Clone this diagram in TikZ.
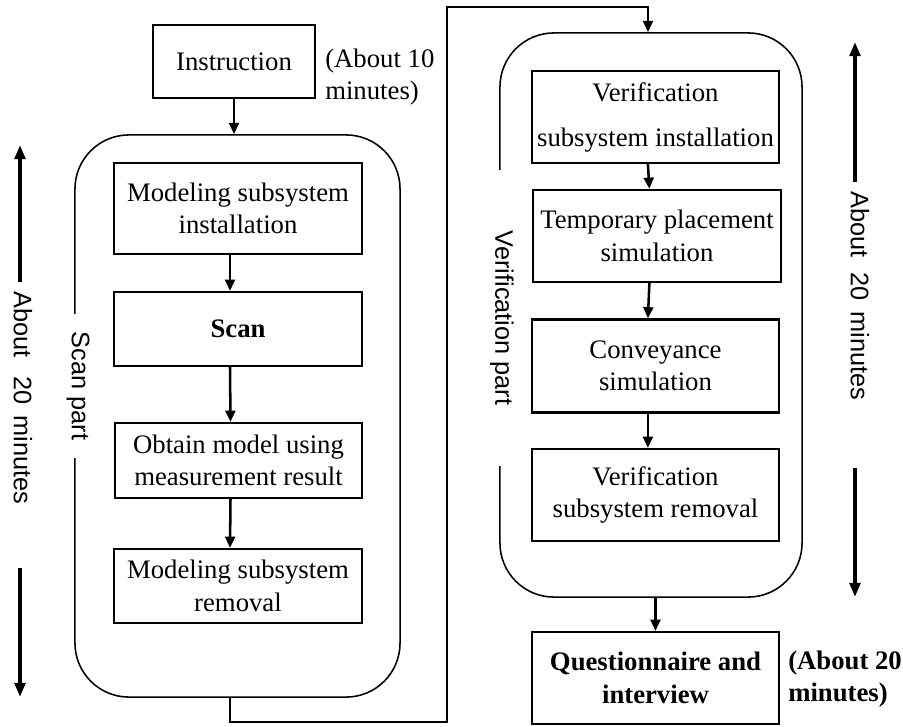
\documentclass[tikz,border=0pt]{standalone}
\usepackage{fontspec}
\setmainfont{Liberation Serif}
\setsansfont{Liberation Sans}
\usetikzlibrary{positioning, arrows.meta}

\begin{document}
\begin{tikzpicture}[
  x=0.025cm, y=-0.025cm,
  font=\fontsize{19}{23}\selectfont,
  boite/.style={draw, line width=1.6pt, align=center, inner sep=2pt},
  gras/.style={font=\fontsize{19}{23}\selectfont\bfseries},
  groupe/.style={draw, line width=1.1pt, rounded corners=1.35cm},
  partie/.style={font=\fontsize{18}{22}\selectfont\sffamily, rotate=-90,
                 fill=white, inner sep=0pt},
  duree/.style={font=\fontsize{18}{22}\selectfont\sffamily, rotate=-90, inner sep=0pt},
  fl/.style={-{Triangle[length=8pt, width=7pt]}, line width=1.8pt},
  grandfl/.style={-{Triangle[length=10pt, width=7.5pt]}, line width=2.8pt},
]
\useasboundingbox (0,0) rectangle (903,726);
% les deux parties
\node[groupe, minimum width=8.125cm, minimum height=14.05cm] (scangrp) at (237.5,416) {};
\node[groupe, minimum width=7.55cm, minimum height=14.1cm] (vergrp) at (651,315) {};
\node[partie, minimum width=3.575cm] (scanlbl) at (78,386) {Scan part};
\node[partie, minimum width=7.375cm] (verlbl) at (502,318) {Verification part};
% consigne
\node[boite, minimum width=4.05cm, minimum height=1.825cm] (instr) at (234,61.5) {Instruction};
\node[anchor=west, align=left, inner sep=0pt] (note1) at (325,77) {(About 10\\minutes)};
% partie scan
\node[boite, minimum width=6.2cm, minimum height=2.275cm] (msi) at (238,208.5)
  {Modeling subsystem\\installation};
\node[boite, gras, minimum width=6.2cm, minimum height=1.85cm] (scan) at (238,329) {Scan};
\node[boite, minimum width=6.175cm, minimum height=1.875cm] (obt) at (238.5,460.5)
  {Obtain model using\\measurement result};
\node[boite, minimum width=6.2cm, minimum height=1.85cm] (msr) at (238,586)
  {Modeling subsystem\\removal};
% partie verification
\node[boite, minimum width=6.175cm, minimum height=2.3cm] (vsi) at (655.5,117)
  {Verification\\[9pt]subsystem installation};
\node[boite, minimum width=6.2cm, minimum height=2.3cm] (tps) at (657,236)
  {Temporary placement\\simulation};
\node[boite, minimum width=6.175cm, minimum height=2.325cm] (conv) at (655.5,366)
  {Conveyance\\simulation};
\node[boite, minimum width=6.175cm, minimum height=2.3cm] (vsr) at (655.5,495)
  {Verification\\subsystem removal};
% questionnaire
\node[boite, gras, minimum width=6.175cm, minimum height=2.3cm] (quest) at (655.5,678)
  {Questionnaire and\\interview};
\node[gras, anchor=west, align=left, inner sep=0pt] (note2) at (788,679) {(About 20\\minutes)};
% durees
\node[duree] (dureeg) at (23,398) {About\hspace{13pt}20\hspace{8pt}minutes};
\node[duree] (dureed) at (860,296) {About\hspace{10pt}20\hspace{8pt}minutes};
\coordinate (g1) at (20,282);
\coordinate (g2) at (20,145);
\coordinate (g3) at (20,568);
\coordinate (g4) at (20,697);
\coordinate (d1) at (855,182);
\coordinate (d2) at (855,42);
\coordinate (d3) at (855,468);
\coordinate (d4) at (855,597);
\draw[grandfl] (g1) -- (g2);
\draw[grandfl] (g3) -- (g4);
\draw[grandfl] (d1) -- (d2);
\draw[grandfl] (d3) -- (d4);
% flux
\draw[fl] (instr.south) -- (instr.south |- scangrp.north);
\draw[fl] ([xshift=-0.2cm]msi.south) -- ([xshift=-0.2cm]scan.north);
\draw[fl] ([xshift=-0.2cm]scan.south) -- ([xshift=-0.2cm]obt.north);
\draw[fl] ([xshift=-0.2cm]obt.south) -- ([xshift=-0.2cm]msr.north);
\coordinate (bas) at (447,722);
\coordinate (haut) at (447,7);
\draw[fl] ([xshift=-0.19cm]scangrp.south) |- (bas) -- (haut) -| ([xshift=-0.075cm]vergrp.north);
\draw[fl] ([xshift=-0.19cm]vsi.south) -- ([xshift=-0.19cm]tps.north);
\draw[fl] ([xshift=-0.19cm]tps.south) -- ([xshift=-0.19cm]conv.north);
\draw[fl] ([xshift=-0.19cm]conv.south) -- ([xshift=-0.19cm]vsr.north);
\draw[fl] (vergrp.south -| quest.north) -- (quest.north);
\end{tikzpicture}
\end{document}
